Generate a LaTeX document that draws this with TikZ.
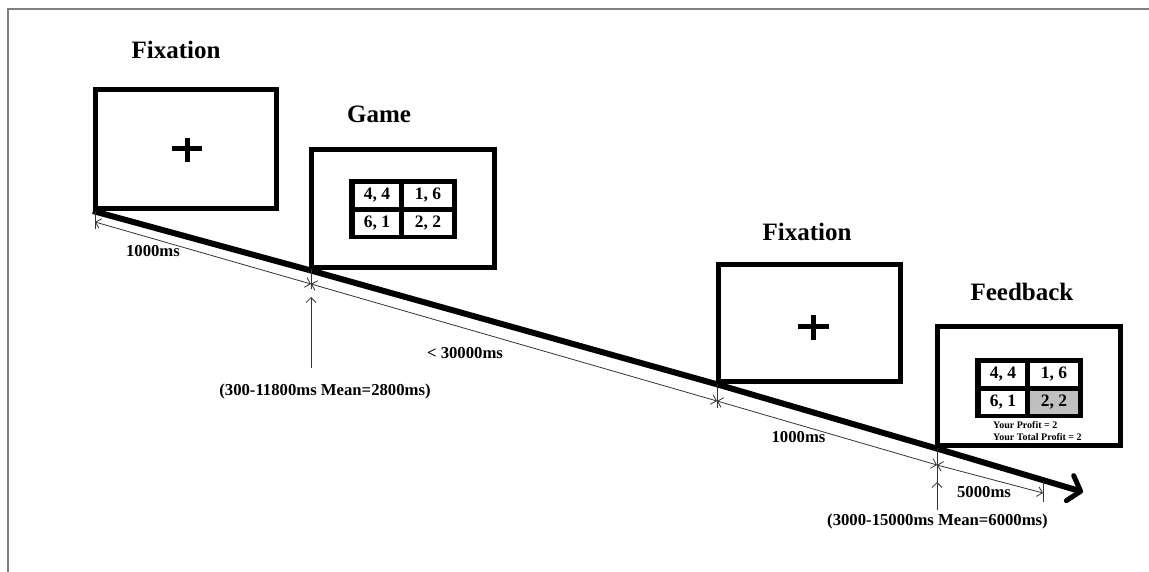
\documentclass[tikz,border=0pt]{standalone}
\usepackage{fontspec}
\setmainfont{Liberation Serif}
\usetikzlibrary{arrows.meta,calc}

\begin{document}
\begin{tikzpicture}[x=1pt,y=-1pt,
  screen/.style args={#1 by #2}{draw, line width=5pt, minimum width=#1, minimum height=#2, inner sep=0pt},
  title/.style={font=\fontsize{25}{30}\selectfont\bfseries, inner sep=0pt},
  lbl/.style={font=\fontsize{16.7}{20}\selectfont\bfseries, inner sep=0pt},
  small/.style={font=\fontsize{10}{11}\selectfont\bfseries, inner sep=0pt, anchor=west},
  tab/.style={fill=black, minimum width=108, minimum height=60, inner sep=0pt},
  cell/.style={fill=white, minimum height=23, inner sep=0pt, font=\fontsize{17.5}{20}\selectfont\bfseries},
  lcell/.style={cell, minimum width=44},
  rcell/.style={cell, minimum width=48},
  timeline/.style={line width=6pt},
  dim/.style={line width=0.8pt, black!80},
  barb/.tip={Straight Barb[length=5pt,width=10pt]},
  dimarrow/.style={dim, barb-barb},
  uparrow/.style={dim, -barb},
  cross/.style={line width=5pt}]

\useasboundingbox (0,0) rectangle (1149,572);

% page frame
\draw[gray, line width=1.5pt] (8,572) -- (8,9) -- (1149,9);

% screens
\node[screen=181 by 119] (fix1) at (186,149) {};
\node[screen=183 by 118] (game) at (403,208.5) {};
\node[screen=182 by 117] (fix2) at (809.5,323) {};
\node[screen=183 by 119] (feed) at (1029,386) {};

% titles
\node[title] (t1) at (176,50) {Fixation};
\node[title] (t2) at (379,114) {Game};
\node[title] (t3) at (807,232) {Fixation};
\node[title] (t4) at (1022,292) {Feedback};

% fixation crosses
\draw[cross] (172,149) -- (202,149) (187,138) -- (187,162);
\draw[cross] (798,326) -- (829,326) (813,315) -- (813,340);

% payoff matrix of the game screen
\node[tab] (gtab) at (403,209) {};
\node[lcell] (g11) at (377,195.5) {4, 4};
\node[rcell] (g12) at (428,195.5) {1, 6};
\node[lcell] (g21) at (377,223.5) {6, 1};
\node[rcell] (g22) at (428,223.5) {2, 2};

% payoff matrix of the feedback screen
\node[tab] (ftab) at (1029,388) {};
\node[lcell] (f11) at (1003,374.5) {4, 4};
\node[rcell] (f12) at (1054,374.5) {1, 6};
\node[lcell] (f21) at (1003,402.5) {6, 1};
\node[rcell, fill={rgb,255:red,192;green,192;blue,192}] (f22) at (1054,402.5) {2, 2};
\node[small] (p1) at (993,425) {Your Profit = 2};
\node[small] (p2) at (993,437) {Your Total Profit = 2};

% time axis
\coordinate (tend) at (1083,492);
\draw[timeline] (fix1.south west) -- (game.south west);
\draw[timeline] (game.south west) -- (fix2.south west);
\draw[timeline] (fix2.south west) -- (feed.south west);
\draw[timeline, -{Straight Barb[length=11pt,width=26pt,line width=5pt,round]}]
  (feed.south west) -- (tend);

% interval markers
\coordinate (j0) at (95,222);
\coordinate (j1) at (311,284);
\coordinate (j2) at (717,401);
\coordinate (j3) at (937,465);
\coordinate (j4) at (1043,493);

\draw[dim] ($(j0)+(0,-11)$) -- ($(j0)+(0,7)$);
\draw[dim] ($(j1)+(0,-15)$) -- ($(j1)+(0,5)$);
\draw[dim] ($(j2)+(0,-17)$) -- ($(j2)+(0,7)$);
\draw[dim] ($(j3)+(0,-17)$) -- ($(j3)+(0,17)$);
\draw[dim] ($(j4)+(0,-12)$) -- ($(j4)+(0,9)$);

\draw[dimarrow] (j0) -- (j1);
\draw[dimarrow] (j1) -- (j2);
\draw[dimarrow] (j2) -- (j3);
\draw[dimarrow] (j3) -- (j4);

% interval labels
\node[lbl] (d1) at (153,251) {1000ms};
\node[lbl] (d2) at (465,353) {< 30000ms};
\node[lbl] (d3) at (798.5,437) {1000ms};
\node[lbl] (d4) at (984,492) {5000ms};

% jitter notes
\coordinate (u1) at (311,368);
\coordinate (u2) at (937,510);
\draw[uparrow] (u1) -- ($(j1)+(0,13)$);
\draw[uparrow] (u2) -- ($(j3)+(0,17)$);
\node[lbl] (m1) at (325,391) {(300-11800ms Mean=2800ms)};
\node[lbl] (m2) at (937.5,521) {(3000-15000ms Mean=6000ms)};

\end{tikzpicture}
\end{document}
